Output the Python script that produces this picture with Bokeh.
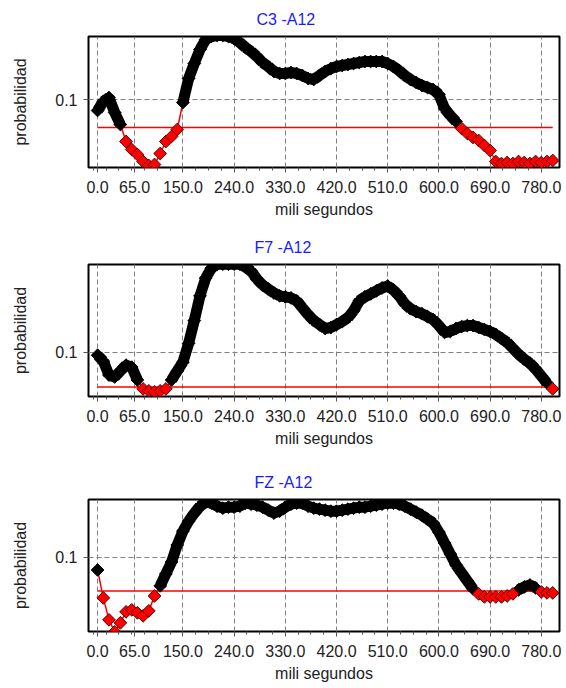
import numpy as np
from bokeh.plotting import figure
from bokeh.layouts import column
from bokeh.models import Range1d, FixedTicker, PrintfTickFormatter
from bokeh.embed import file_html
from bokeh.resources import INLINE

# ---------------- data ----------------
ms = list(range(0, 801, 10))

c3_a12 = [
    0.089, 0.098, 0.102, 0.087, 0.075, 0.058, 0.050, 0.045, 0.038, 0.034,
    0.035, 0.046, 0.058, 0.063, 0.070, 0.097, 0.121, 0.136, 0.150, 0.160,
    0.163, 0.164, 0.164, 0.163, 0.161, 0.157, 0.152, 0.148, 0.143, 0.137,
    0.133, 0.128, 0.126, 0.126, 0.127, 0.126, 0.124, 0.121, 0.120, 0.124,
    0.128, 0.131, 0.133, 0.134, 0.135, 0.136, 0.137, 0.138, 0.138, 0.138,
    0.138, 0.136, 0.133, 0.129, 0.124, 0.120, 0.117, 0.114, 0.112, 0.110,
    0.105, 0.091, 0.084, 0.078, 0.071, 0.066, 0.062, 0.059, 0.054, 0.049,
    0.038, 0.036, 0.037, 0.036, 0.038, 0.037, 0.036, 0.038, 0.037, 0.038,
    0.039,
]

f7_a12 = [
    0.097, 0.091, 0.077, 0.075, 0.081, 0.087, 0.085, 0.072, 0.063, 0.061,
    0.060, 0.061, 0.063, 0.072, 0.081, 0.090, 0.109, 0.132, 0.157, 0.175,
    0.185, 0.189, 0.189, 0.189, 0.189, 0.189, 0.186, 0.182, 0.174, 0.168,
    0.164, 0.160, 0.157, 0.156, 0.155, 0.152, 0.145, 0.138, 0.132, 0.128,
    0.124, 0.125, 0.128, 0.131, 0.135, 0.142, 0.152, 0.156, 0.159, 0.162,
    0.165, 0.167, 0.163, 0.157, 0.149, 0.144, 0.141, 0.139, 0.136, 0.133,
    0.127, 0.120, 0.121, 0.124, 0.126, 0.127, 0.127, 0.125, 0.123, 0.121,
    0.118, 0.114, 0.110, 0.104, 0.098, 0.093, 0.089, 0.083, 0.076, 0.069,
    0.063,
]

fz_a12 = [
    0.087, 0.059, 0.037, 0.025, 0.034, 0.045, 0.047, 0.044, 0.041, 0.046,
    0.061, 0.071, 0.083, 0.095, 0.112, 0.126, 0.136, 0.144, 0.151, 0.155,
    0.154, 0.151, 0.149, 0.150, 0.150, 0.151, 0.154, 0.153, 0.152, 0.150,
    0.147, 0.144, 0.146, 0.150, 0.153, 0.154, 0.154, 0.151, 0.149, 0.148,
    0.147, 0.146, 0.146, 0.147, 0.148, 0.149, 0.150, 0.150, 0.151, 0.152,
    0.153, 0.154, 0.154, 0.153, 0.151, 0.148, 0.145, 0.142, 0.138, 0.134,
    0.125, 0.114, 0.103, 0.092, 0.084, 0.076, 0.068, 0.063, 0.060, 0.060,
    0.060, 0.060, 0.061, 0.063, 0.067, 0.070, 0.072, 0.069, 0.065, 0.064,
    0.064,
]

thresholds = [0.072, 0.065, 0.066]
titles = ["C3 -A12", "F7 -A12", "FZ -A12"]
x_ticks = [0, 65, 150, 240, 330, 420, 510, 600, 690, 780]
y_ticks = [0.1]
y_ranges = [(0.032, 0.163), (0.0553, 0.1887), (0.0253, 0.1577)]

# ---------------- layout / style ----------------
FONT = "Liberation Sans"
# (height, border_top, border_bottom, border_left, border_right, title_offset)
geo = [
    (228, 36, 61, 85, 7, 168),
    (234, 35, 66, 88, 4, 166),
    (226, 37, 57, 88, 4, 166),
]
minor = [150 + 22.5 * k for k in range(-7, 29)]
minor = [m for m in minor if -16 < m < 812 and m not in x_ticks]


def panel(vals, thr, title, yr, g):
    h, bt, bb, bl, br, toff = g
    p = figure(width=566, height=h, x_range=Range1d(-16, 812), y_range=Range1d(*yr),
               output_backend="svg", toolbar_location=None, tools="",
               min_border_top=bt, min_border_bottom=bb, min_border_left=bl,
               min_border_right=br, background_fill_color="white",
               border_fill_color="white")
    p.title.text = title
    p.title.align = "left"
    p.title.offset = toff
    p.title.text_color = "#1a1aff"
    p.title.text_font = FONT
    p.title.text_font_size = "16px"
    p.title.text_font_style = "normal"
    p.title.text_line_height = 1.0
    p.title.standoff = 17

    p.outline_line_color = "black"
    p.outline_line_width = 2

    p.xaxis.ticker = FixedTicker(ticks=x_ticks, minor_ticks=minor)
    p.xaxis.formatter = PrintfTickFormatter(format="%.1f")
    p.yaxis.ticker = FixedTicker(ticks=y_ticks, minor_ticks=[])
    p.yaxis.formatter = PrintfTickFormatter(format="%.1f")
    p.xaxis.axis_label = "mili segundos"
    p.yaxis.axis_label = "probabilidad"
    for ax in (p.xaxis[0], p.yaxis[0]):
        ax.axis_line_color = None
        ax.major_tick_line_color = "#555555"
        ax.minor_tick_line_color = "#555555"
        ax.major_tick_in = 0
        ax.major_tick_out = 5
        ax.minor_tick_in = 0
        ax.minor_tick_out = 3
        ax.major_label_text_font = FONT
        ax.major_label_text_font_size = "16px"
        ax.major_label_text_color = "#222222"
        ax.major_label_standoff = 6
        ax.axis_label_text_font = FONT
        ax.axis_label_text_font_size = "16px"
        ax.axis_label_text_font_style = "normal"
        ax.axis_label_text_color = "#222222"
    p.xaxis.major_label_standoff = 8
    p.xaxis.axis_label_standoff = 5
    p.yaxis.axis_label_standoff = 23

    for gr in (p.xgrid[0], p.ygrid[0]):
        gr.grid_line_color = "#808080"
        gr.grid_line_dash = "5 3"
        gr.grid_line_width = 1

    x = np.array(ms, dtype=float)
    y = np.array(vals, dtype=float)
    below = y < thr
    both_black = (~below[:-1]) & (~below[1:])
    # connecting segments
    p.segment(x0=x[:-1][both_black], y0=y[:-1][both_black],
              x1=x[1:][both_black], y1=y[1:][both_black],
              line_color="black", line_width=11)
    p.segment(x0=x[:-1][~both_black], y0=y[:-1][~both_black],
              x1=x[1:][~both_black], y1=y[1:][~both_black],
              line_color="red", line_width=1.5)
    # threshold line
    p.line([x[0], x[-1]], [thr, thr], line_color="red", line_width=1.5)
    # markers
    p.scatter(x[~below], y[~below], marker="square", angle=np.pi / 4, size=9,
              fill_color="black", line_color="black")
    p.scatter(x[below], y[below], marker="square", angle=np.pi / 4, size=9,
              fill_color="red", line_color="#550000", line_width=1)
    return p


series = [c3_a12, f7_a12, fz_a12]
plots = [panel(series[i], thresholds[i], titles[i], y_ranges[i], geo[i]) for i in range(3)]
layout = column(*plots, spacing=0)

open("out.html", "w").write(file_html(layout, INLINE))
